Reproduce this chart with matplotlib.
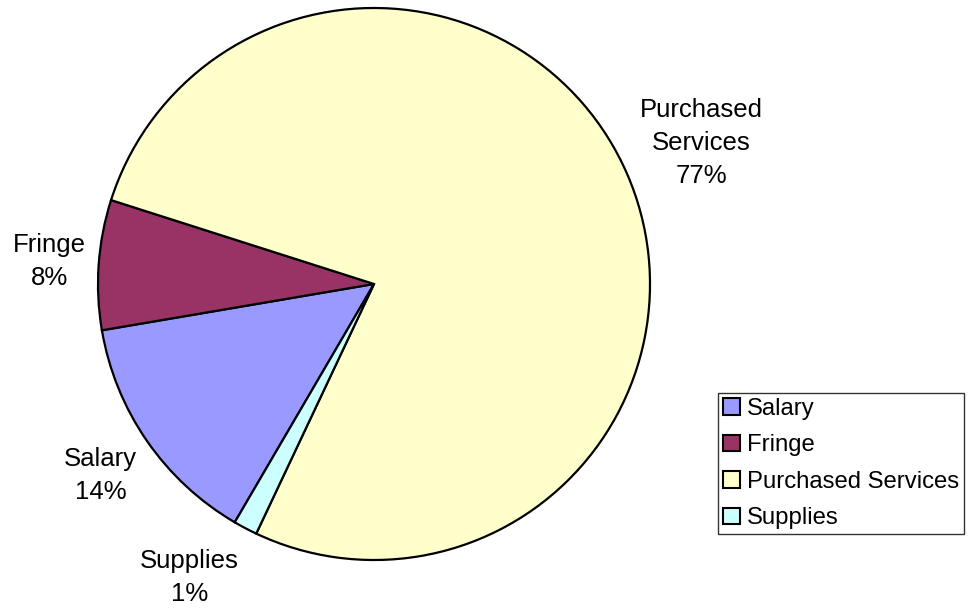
import numpy as np
import matplotlib
matplotlib.use("Agg")
import matplotlib.pyplot as plt
from matplotlib.patches import Patch

plt.rcParams['font.family'] = ['Liberation Sans', 'DejaVu Sans']

categories = ["Salary", "Fringe", "Purchased Services", "Supplies"]
shares = [13.9, 7.6, 77.1, 1.4]
slice_labels = ["Salary", "Fringe", "Purchased\nServices", "Supplies"]
colors = ["#9999FF", "#993366", "#FFFFCC", "#CCFFFF"]
# label placement: radial distance (in radii) and angular nudge (degrees)
label_dist = [1.21, 1.18, 1.29, 1.255]
label_nudge = [0.3, 0.0, -0.2, -4.4]

W, H = 969, 610
fig = plt.figure(figsize=(W / 100, H / 100), dpi=100)

cx, cy, r = 374, 284, 276
ax = fig.add_axes([(cx - r) / W, (H - cy - r) / H, 2 * r / W, 2 * r / H])

wedges, _ = ax.pie(shares, colors=colors, startangle=239.7, counterclock=False,
                   radius=1, wedgeprops=dict(edgecolor='black', linewidth=1.6))
ax.set_xlim(-1, 1)
ax.set_ylim(-1, 1)
ax.set_aspect('equal')
ax.axis('off')
for w in wedges:
    w.set_clip_on(False)

for w, lab, v, d, nd in zip(wedges, slice_labels, shares, label_dist, label_nudge):
    mid = np.deg2rad((w.theta1 + w.theta2) / 2 + nd)
    ax.text(d * np.cos(mid), d * np.sin(mid), f"{lab}\n{v:.0f}%",
            ha='center', va='center', fontsize=18.5, linespacing=1.48,
            clip_on=False)

handles = [Patch(facecolor=c, edgecolor='black', linewidth=1.5) for c in colors]
leg = fig.legend(handles, categories, loc='upper left',
                 bbox_to_anchor=(718 / W, 1 - 393 / H), fontsize=17.2,
                 frameon=True, fancybox=False, borderpad=0.2,
                 handlelength=0.7, handleheight=0.7, handletextpad=0.3,
                 labelspacing=0.61, borderaxespad=0)
leg.get_frame().set_edgecolor('black')
leg.get_frame().set_linewidth(1.0)

fig.savefig("out.png", dpi=100)
